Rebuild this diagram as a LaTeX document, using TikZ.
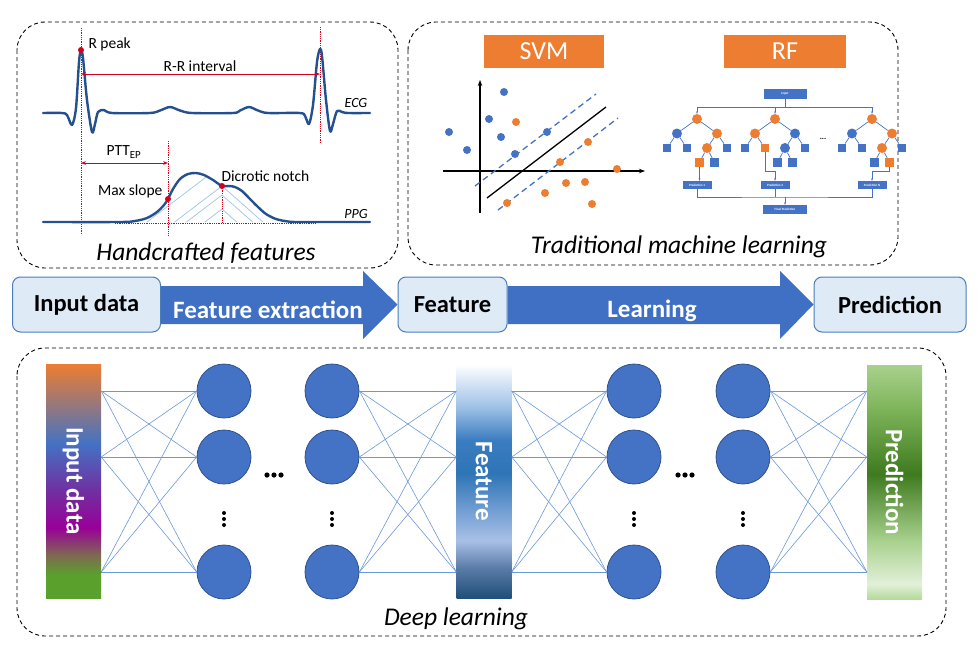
\documentclass[tikz,border=0pt]{standalone}
\usepackage{fontspec}
\setmainfont{Carlito}
\usepackage{tikz}
\usepackage{xcolor}
\usetikzlibrary{positioning, arrows.meta, backgrounds}

\definecolor{ecgblue}{HTML}{24508F}
\definecolor{ptred}{HTML}{D0021B}
\definecolor{hatchblue}{HTML}{9DC3E6}
\definecolor{mlorange}{HTML}{ED7D31}
\definecolor{mlblue}{HTML}{4472C4}
\definecolor{nodeedge}{HTML}{2F528F}
\definecolor{boxfill}{HTML}{DEEBF7}
\definecolor{boxedge}{HTML}{4A7EBB}
\definecolor{flowblue}{HTML}{3F70C3}
\definecolor{netblue}{HTML}{6A98D8}

% bar gradients
\definecolor{ingreen}{HTML}{5AA02C}
\definecolor{inolive}{HTML}{7E6B4F}
\definecolor{inmagenta}{HTML}{990099}
\definecolor{inpurple}{HTML}{7030A0}
\definecolor{inblue}{HTML}{4472C4}
\definecolor{inorange}{HTML}{ED7D31}
\definecolor{ftA}{HTML}{1F4E79}
\definecolor{ftB}{HTML}{5A7CA8}
\definecolor{ftC}{HTML}{A9C0E6}
\definecolor{ftD}{HTML}{6D9BD1}
\definecolor{ftE}{HTML}{2E75B6}
\definecolor{ftF}{HTML}{3A7CC0}
\definecolor{ftG}{HTML}{9DC0E6}
\definecolor{prA}{HTML}{B5D99C}
\definecolor{prB}{HTML}{E2F0D9}
\definecolor{prC}{HTML}{A9D18E}
\definecolor{prD}{HTML}{3F7A1F}
\definecolor{prE}{HTML}{7FB55A}

\pgfdeclareverticalshading{inputgrad}{100bp}{color(0bp)=(ingreen); color(30bp)=(ingreen);
  color(34bp)=(inolive); color(40bp)=(inmagenta); color(48bp)=(inpurple);
  color(58bp)=(inblue); color(75bp)=(inorange); color(100bp)=(inorange)}
\pgfdeclareverticalshading{featgrad}{100bp}{color(0bp)=(ftA); color(25bp)=(ftA);
  color(31.6bp)=(ftB); color(37.4bp)=(ftC); color(44.4bp)=(ftD); color(51.7bp)=(ftE);
  color(58.8bp)=(ftF); color(65.8bp)=(ftG); color(75bp)=(white); color(100bp)=(white)}
\pgfdeclareverticalshading{predgrad}{100bp}{color(0bp)=(prA); color(25bp)=(prA);
  color(28.2bp)=(prB); color(37.4bp)=(prC); color(51.7bp)=(prD); color(65.8bp)=(prE);
  color(75bp)=(prC); color(100bp)=(prC)}

\begin{document}
\begin{tikzpicture}[x=1pt, y=-1pt,
        panel/.style={draw, dash pattern=on 4pt off 3pt, line width=0.9pt, rounded corners=28pt},
        paneltitle/.style={font=\fontsize{25.5}{30}\selectfont\itshape},
        wavelabel/.style={font=\fontsize{15.5}{18}\selectfont},
        sigtag/.style={font=\fontsize{14}{16}\selectfont\itshape},
        markdot/.style={circle, fill=ptred, inner sep=0pt, minimum size=6pt},
        reddots/.style={ptred, densely dotted, line width=0.8pt},
        ecgline/.style={ecgblue, line width=2.4pt, line cap=round, line join=round},
        flowbox/.style={draw=boxedge, fill=boxfill, line width=1pt, rounded corners=8pt,
            minimum height=55pt, font=\fontsize{24.5}{28}\selectfont\bfseries},
        flowtext/.style={text=white, font=\fontsize{25}{29}\selectfont\bfseries},
        mltag/.style={fill=mlorange, minimum height=33pt, text=white, font=\fontsize{26}{30}\selectfont},
        rfo/.style={circle, fill=mlorange, inner sep=0pt, minimum size=10pt},
        rfb/.style={circle, fill=mlblue, inner sep=0pt, minimum size=10pt},
        rfsq/.style={fill=mlblue, inner sep=0pt, minimum size=8.5pt},
        rfsqo/.style={fill=mlorange, inner sep=0pt, minimum size=8.5pt},
        rfbox/.style={fill=mlblue, inner sep=0pt, minimum height=8pt, text=white,
            font=\fontsize{3.2}{4}\selectfont\bfseries},
        rfline/.style={mlblue, line width=0.7pt},
        neuron/.style={circle, fill=mlblue, draw=nodeedge, line width=0.8pt, minimum size=54pt, inner sep=0pt},
        netline/.style={netblue, line width=0.6pt},
        dlbar/.style={minimum width=55pt, minimum height=234pt, inner sep=0pt},
        bartext/.style={rotate=-90, text=white, font=\fontsize{25}{29}\selectfont\bfseries},
        level distance=14.5pt,
        level 1/.style={sibling distance=40pt},
        level 2/.style={sibling distance=20pt},
        level 3/.style={sibling distance=15pt},
        edge from parent/.style={draw, rfline},
    ]
    \useasboundingbox (0,0) rectangle (978,648);

    % panels
    \draw[panel] (17,22) rectangle (398,268);
    \draw[panel] (408,22) rectangle (898,265);
    \draw[panel] (17,348) rectangle (946,636);
    \node[paneltitle] (hctitle) at (206,253) {Handcrafted features};
    \node[paneltitle] (tmltitle) at (679,247) {Traditional machine learning};
    \node[paneltitle] (dltitle) at (456,619) {Deep learning};

    % ECG and PPG
    \draw[reddots] (81,28) -- (81,235);
    \draw[reddots] (320,27) -- (320,143);
    \draw[reddots] (168,141) -- (168,235);
    \draw[reddots] (222,186) -- (222,223);
    \draw[reddots] (115,223) -- (315,223);
    \draw[ecgline] plot[smooth, tension=0.5] coordinates {(43,113) (62,113) (67,115) (72,125) (76,108)
        (79,62) (81,50) (83,58) (87,100) (92,132) (95,124) (98,112) (104,110) (112,113) (150,113)
        (160,110.5) (170,107) (180,110.5) (192,113) (233,113) (240,110.5) (249,107) (258,110.5) (268,113)
        (300,113) (305,116) (309,124) (313,105) (317,62) (320,49) (322,56) (326,100) (330,131)
        (333,124) (337,111) (342,112) (348,113) (370,113)};
    \begin{scope}
        \clip plot[smooth, tension=0.5] coordinates {(43,222) (120,222) (135,221) (147,218) (157,212)
            (164,205) (168,199) (173,189) (180,179) (188,174) (196,173) (204,175) (213,180) (222,186)
            (229,186) (235,187) (242,191) (250,199) (258,207) (266,214) (276,219) (288,221.5)
            (300,222) (370,222)} -- cycle;
        \foreach \h in {14,28,37,58,80}
            \draw[hatchblue, line width=0.7pt] ({222-\h/0.76},223) -- (222,{223-\h}) -- ({222+\h/0.88},223);
    \end{scope}
    \draw[ecgline] plot[smooth, tension=0.5] coordinates {(43,222) (120,222) (135,221) (147,218) (157,212)
        (164,205) (168,199) (173,189) (180,179) (188,174) (196,173) (204,175) (213,180) (222,186)
        (229,186) (235,187) (242,191) (250,199) (258,207) (266,214) (276,219) (288,221.5)
        (300,222) (370,222)};
    \coordinate (rr1) at (81,74);
    \coordinate (rr2) at (320,74);
    \coordinate (ptt1) at (81,163);
    \coordinate (ptt2) at (168,163);
    \draw[ptred, line width=1pt, {Stealth[length=5pt]}-{Stealth[length=5pt]}] (rr1) -- (rr2);
    \draw[ptred, line width=1pt, {Stealth[length=5pt]}-{Stealth[length=5pt]}] (ptt1) -- (ptt2);
    \node[markdot] (rpeak) at (81,50) {};
    \node[markdot] (maxslope) at (168,199) {};
    \node[markdot] (notch) at (222,186) {};
    \node[wavelabel, anchor=west] (rpeaklbl) at (85,44) {R peak};
    \node[wavelabel] (rrlbl) at (200,66) {R-R interval};
    \node[sigtag] (ecglbl) at (356,103) {ECG};
    \node[wavelabel] (pttlbl) at (124,152) {PTT\textsubscript{EP}};
    \node[wavelabel, anchor=east] (slopelbl) at (166,191) {Max slope};
    \node[wavelabel, anchor=west] (notchlbl) at (218,176) {Dicrotic notch};
    \node[sigtag] (ppglbl) at (356,214) {PPG};

    % SVM
    \node[mltag, minimum width=120pt] (svm) at (544,51.5) {SVM};
    \draw[line width=1.3pt, -{Stealth[length=6pt]}] (480,213) -- (480,80);
    \draw[line width=1.3pt, -{Stealth[length=6pt]}] (443,171) -- (645,171);
    \draw[line width=1.3pt] (487,198) -- (606,107);
    \draw[mlblue, line width=1.3pt, dash pattern=on 6pt off 4pt] (475,186) -- (596,94);
    \draw[mlblue, line width=1.3pt, dash pattern=on 6pt off 4pt] (498,210) -- (618,118);
    \foreach \p in {(504,92),(489,119),(449,132),(501,137),(467,150),(515,154),(547,132)}
        \fill[mlblue] \p circle (4pt);
    \foreach \p in {(516,122),(588,142),(560,162),(617,169),(566,183),(585,182),(545,193),(507,203),(592,204)}
        \fill[mlorange] \p circle (4pt);

    % RF
    \node[mltag, minimum width=122pt] (rf) at (785,51.5) {RF};
    \node[rfbox, minimum width=43pt, minimum height=10pt] (rfin) at (785,94) {Input};
    \coordinate (rfbus) at (785,107);
    \node[rfo] (t1) at (697,119) {}
        child {node[rfb] {} child {node[rfsq] {}} child {node[rfsq] {}}}
        child {node[rfo] {}
            child {node[rfo] {} child {node[rfsqo] (t1leaf) {}} child {node[rfsq] {}}}
            child {node[rfsq] {}}};
    \node[rfo] (t2) at (775,119) {}
        child {node[rfo] {} child {node[rfsq] {}} child {node[rfsqo] (t2leaf) {}}}
        child {node[rfb] {}
            child {node[rfb] {} child {node[rfsq] {}} child {node[rfsq] {}}}
            child {node[rfsq] {}}};
    \node[rfo] (t3) at (872,119) {}
        child {node[rfb] {} child {node[rfsq] {}} child {node[rfsq] {}}}
        child {node[rfo] {}
            child {node[rfo] {} child {node[rfsq] {}} child {node[rfsqo] (t3leaf) {}}}
            child {node[rfsq] {}}};
    \node[font=\fontsize{8}{8}\selectfont\bfseries] (rfdots) at (823,139) {...};
    \node[rfbox, minimum width=29pt] (p1) at (697,185) {Prediction 1};
    \node[rfbox, minimum width=29pt] (p2) at (775,185) {Prediction 2};
    \node[rfbox, minimum width=29pt] (pN) at (872,185) {Prediction N};
    \node[rfbox, minimum width=44pt, minimum height=9pt] (rffin) at (785,209.5) {Final Prediction};
    \coordinate (rfbot) at (785,197);
    \draw[rfline] (rfin) -- (rfbus);
    \draw[rfline] (t1 |- rfbus) -- (t3 |- rfbus);
    \foreach \t in {t1,t2,t3}
        \draw[rfline, -{Stealth[length=2.5pt]}] (\t |- rfbus) -- (\t);
    \draw[rfline, -{Stealth[length=2.5pt]}] (t1leaf) -- (t1leaf |- p1.north);
    \draw[rfline, -{Stealth[length=2.5pt]}] (t2leaf) |- ([yshift=9pt]p2.north) -- (p2.north);
    \draw[rfline, -{Stealth[length=2.5pt]}] (t3leaf) |- ([yshift=9pt]pN.north) -- (pN.north);
    \draw[rfline] (p1.south) |- (rfbot) -| (pN.south);
    \draw[rfline] (p2.south) -- (p2.south |- rfbot);
    \draw[rfline, -{Stealth[length=2.5pt]}] (rfbot) -- (rffin.north);

    % flow row
    \node[flowbox, minimum width=148pt] (inbox) at (86.5,304.5) {Input data};
    \node[flowbox, minimum width=109pt] (featbox) at (452.5,304.5) {Feature};
    \node[flowbox, minimum width=152pt] (predbox) at (890,304.5) {Prediction};
    \begin{scope}[on background layer]
        \fill[flowblue] (inbox.east |- 0,286) -- (363,286) -- (363,271) -- (featbox.west)
            -- (363,339) -- (363,324) -- (inbox.east |- 0,324) -- cycle;
        \fill[flowblue] (featbox.east |- 0,286) -- (780,286) -- (780,271) -- (predbox.west)
            -- (780,339) -- (780,324) -- (featbox.east |- 0,324) -- cycle;
    \end{scope}
    \node[flowtext] (fxlbl) at (268,310) {Feature extraction};
    \node[flowtext] (lrnlbl) at (652,311) {Learning};

    % deep network
    \node[dlbar, shading=inputgrad] (inbar) at (73.5,481) {};
    \node[dlbar, shading=featgrad] (featbar) at (484,481.5) {};
    \node[dlbar, shading=predgrad] (predbar) at (894.5,482) {};
    \node[bartext] (intext) at (inbar) {Input data};
    \node[bartext] (fttext) at (featbar) {Feature};
    \node[bartext] (prtext) at (predbar) {Prediction};
    \foreach \c/\x in {a/224, b/332, c/634, d/743}
        \foreach \r/\y in {1/391, 2/457, 3/572}
            \node[neuron] (\c\r) at (\x,\y) {};
    \foreach \i in {1,2,3}
        \foreach \j in {1,2,3} {
            \draw[netline] (inbar.east |- a\i.west) -- (a\j.west);
            \draw[netline] (b\i.east) -- (featbar.west |- b\j.east);
            \draw[netline] (featbar.east |- c\i.west) -- (c\j.west);
            \draw[netline] (d\i.east) -- (predbar.west |- d\j.east);
        }
    \foreach \x in {224,332,634,743}
        \foreach \dy in {-6,0,6}
            \fill (\x,{519+\dy}) circle (2pt);
    \foreach \x in {274,685}
        \foreach \dx in {-7,0,7}
            \fill ({\x+\dx},475) circle (2.6pt);
\end{tikzpicture}
\end{document}
